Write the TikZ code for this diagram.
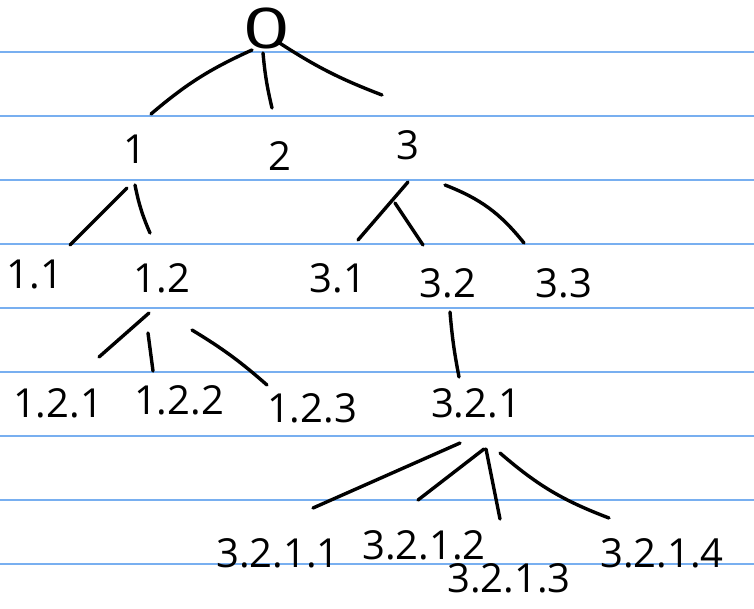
\documentclass[tikz,border=0pt]{standalone}
\usepackage{fontspec}
\setmainfont{Open Sans}
\usetikzlibrary{positioning}

\definecolor{ruleblue}{RGB}{120,175,240}

\begin{document}
\begin{tikzpicture}[x=1pt,y=1pt,
    lbl/.style={inner sep=1pt,font=\fontsize{40}{44}\selectfont},
    edge/.style={line width=3.4pt,line cap=round},
    rule/.style={ruleblue,line width=1.6pt}]

    \useasboundingbox (0,0) rectangle (754,-608);
    \fill[white] (0,0) rectangle (754,-608);

    % the paper lines
    \foreach \y in {0,...,8}
      \draw[rule] (0,-52-64*\y) -- (754,-52-64*\y);

    % the texts
    \node[lbl,font=\fontsize{56}{60}\selectfont,xscale=1.45,transform shape] (root) at (267,-28) {0};
    \node[lbl] (n1) at (135,-149) {1};
    \node[lbl] (n2) at (280,-156) {2};
    \node[lbl] (n3) at (408,-145) {3};

    \node[lbl] (n11) at (35,-275) {1.1};
    \node[lbl] (n12) at (162,-278) {1.2};
    \node[lbl] (n31) at (338,-278) {3.1};
    \node[lbl] (n32) at (448,-283) {3.2};
    \node[lbl] (n33) at (564,-283) {3.3};

    \node[lbl] (n121) at (58,-403) {1.2.1};
    \node[lbl] (n122) at (179,-400) {1.2.2};
    \node[lbl] (n123) at (312,-408) {1.2.3};
    \node[lbl] (n321) at (476,-403) {3.2.1};

    \node[lbl] (n3211) at (278,-553) {3.2.1.1};
    \node[lbl] (n3212) at (424,-545) {3.2.1.2};
    \node[lbl] (n3213) at (509,-578) {3.2.1.3};
    \node[lbl] (n3214) at (662,-553) {3.2.1.4};

    % the branches
    \draw[edge] ([shift={(-15,-22)}]root.center) to[bend right=8] ([shift={(16,35)}]n1.center);
    \draw[edge] ([shift={(-4,-25)}]root.center) to[bend right=4] ([shift={(-8,48)}]n2.center);
    \draw[edge] ([shift={(11,-14)}]root.center) to[bend right=6] ([shift={(-26,50)}]n3.center);

    \draw[edge] ([shift={(-8,-39)}]n1.center) -- ([shift={(35,30)}]n11.center);
    \draw[edge] ([shift={(0,-36)}]n1.center) to[bend right=6] ([shift={(-12,45)}]n12.center);

    \draw[edge] ([shift={(0,-37)}]n3.center) -- ([shift={(20,38)}]n31.center);
    \draw[edge] ([shift={(-13,-58)}]n3.center) -- ([shift={(-25,38)}]n32.center);
    \draw[edge] ([shift={(37,-40)}]n3.center) to[bend left=15] ([shift={(-40,40)}]n33.center);

    \draw[edge] ([shift={(-13,-35)}]n12.center) -- ([shift={(41,46)}]n121.center);
    \draw[edge] ([shift={(-14,-55)}]n12.center) -- ([shift={(-26,29)}]n122.center);
    \draw[edge] ([shift={(30,-52)}]n12.center) to[bend left=5] ([shift={(-45,23)}]n123.center);

    \draw[edge] ([shift={(2,-29)}]n32.center) to[bend right=3] ([shift={(-17,26)}]n321.center);

    \draw[edge] ([shift={(-16,-40)}]n321.center) -- ([shift={(35,45)}]n3211.center);
    \draw[edge] ([shift={(8,-46)}]n321.center) -- ([shift={(-6,45)}]n3212.center);
    \draw[edge] ([shift={(10,-46)}]n321.center) -- ([shift={(-9,59)}]n3213.center);
    \draw[edge] ([shift={(24,-50)}]n321.center) to[bend right=10] ([shift={(-53,35)}]n3214.center);

\end{tikzpicture}
\end{document}
